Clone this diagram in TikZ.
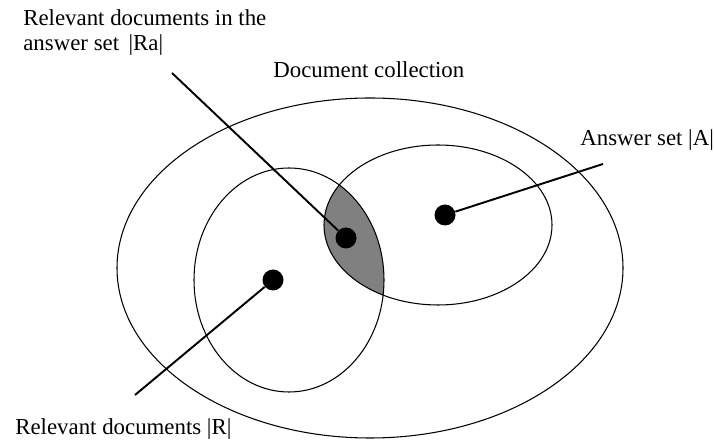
\documentclass[tikz,border=0pt]{standalone}
\usepackage{fontspec}
\setmainfont{Liberation Serif}
\usetikzlibrary{positioning}
\definecolor{lensgray}{RGB}{128,128,128}

\begin{document}
\begin{tikzpicture}[x=0.2mm, y=0.2mm,
  docdot/.style={circle, fill=black, inner sep=0pt, minimum size=4.2mm},
  lbl/.style={inner sep=0pt, font=\fontsize{13}{14.2}\selectfont},
  ring/.style={line width=0.6pt},
  pointer/.style={line width=1.1pt}]
  \useasboundingbox (0,0) rectangle (714,441);
  % overlap of R and A
  \begin{scope}
    \clip (289,161) ellipse [x radius=95, y radius=112];
    \fill[lensgray] (438,216) ellipse [x radius=114, y radius=80];
  \end{scope}
  \draw[ring] (370,173) ellipse [x radius=253, y radius=170];
  \draw[ring] (438,216) ellipse [x radius=114, y radius=80];
  \draw[ring] (289,161) ellipse [x radius=95, y radius=112];

  \node[docdot] (radot) at (346,203) {};
  \node[docdot] (adot) at (445,226) {};
  \node[docdot] (rdot) at (273,161) {};

  \node[lbl, anchor=north west, align=left] (ralbl) at (23,432)
    {Relevant documents in the\\answer set \,|Ra|};
  \node[lbl, anchor=base west] (coll) at (273,363) {Document collection};
  \node[lbl, anchor=base west] (albl) at (580,295) {Answer set |A|};
  \node[lbl, anchor=base west] (rlbl) at (15,6) {Relevant documents |R|};

  \coordinate (raend) at (172,368);
  \coordinate (aend) at (603,277);
  \coordinate (rend) at (135,46);
  \draw[pointer] (raend) -- (radot);
  \draw[pointer] (aend) -- (adot);
  \draw[pointer] (rend) -- (rdot);
\end{tikzpicture}
\end{document}
